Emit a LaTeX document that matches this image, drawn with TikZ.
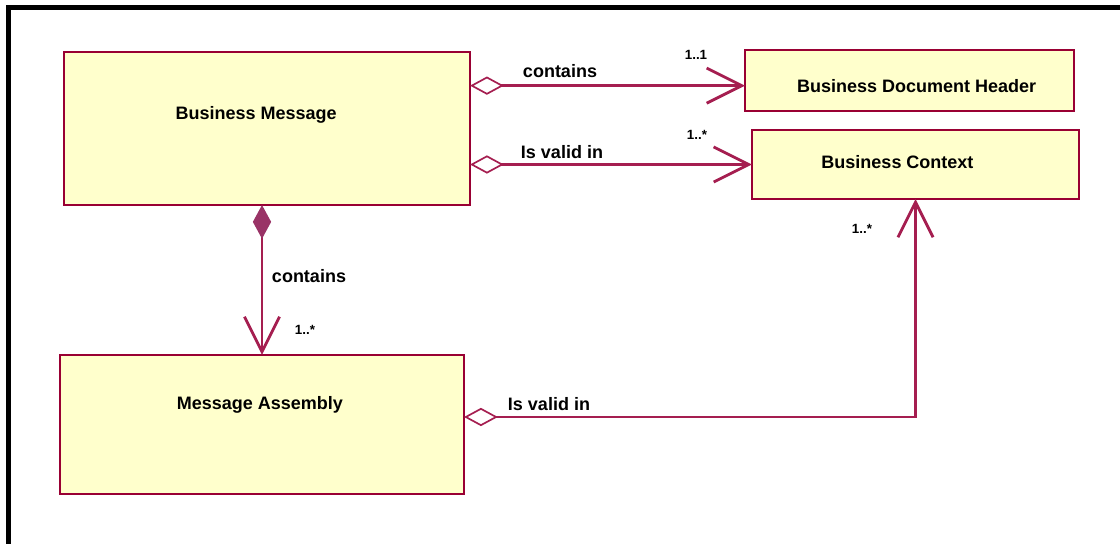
\documentclass[tikz,border=0pt]{standalone}
\usepackage{fontspec}
\setmainfont{Liberation Sans}
\usetikzlibrary{arrows.meta,calc,positioning}
\definecolor{umlred}{RGB}{153,0,51}
\definecolor{umlline}{RGB}{165,30,80}
\definecolor{umlfill}{RGB}{255,255,204}
\definecolor{umlcomp}{RGB}{153,51,102}

\begin{document}
\begin{tikzpicture}[x=0.025cm, y=-0.025cm,
    cls/.style={draw=umlred, fill=umlfill, line width=1pt, rectangle, outer sep=0pt},
    clsname/.style={font=\fontsize{12.8}{14}\selectfont\bfseries, inner sep=0pt},
    lbl/.style={font=\fontsize{12.8}{14}\selectfont\bfseries, inner sep=0pt},
    mult/.style={font=\fontsize{9.5}{10}\selectfont\bfseries, inner sep=0pt},
    link/.style={draw=umlline, line width=1.7pt},
    agg/.style={link, {Diamond[open, length=24pt, width=13pt, line width=1.2pt]}-{Straight Barb[length=25pt, width=25pt, line width=2pt]}},
    comp/.style={link, {Diamond[length=24pt, width=13pt, fill=umlcomp, color=umlcomp]}-{Straight Barb[length=25pt, width=25pt, line width=2pt]}}
]
    \useasboundingbox (0,0) rectangle (1120,544);
    % frame
    \draw[line width=3.2pt] (8.5,544) -- (8.5,7.5) -- (1120,7.5);

    % classes
    \node [cls, minimum width=10.15cm, minimum height=3.825cm,
           label={[clsname, xshift=-0.27cm, yshift=0.34cm]center:Business Message}] (msg) at (267,128.5) {};
    \node [cls, minimum width=8.225cm, minimum height=1.525cm,
           label={[clsname, xshift=0.18cm, yshift=-0.14cm]center:Business Document Header}] (hdr) at (909.5,80.5) {};
    \node [cls, minimum width=8.175cm, minimum height=1.725cm,
           label={[clsname, xshift=-0.45cm, yshift=0.06cm]center:Business Context}] (ctx) at (915.5,164.5) {};
    \node [cls, minimum width=10.1cm, minimum height=3.475cm,
           label={[clsname, xshift=-0.05cm, yshift=0.49cm]center:Message Assembly}] (asm) at (262,424.5) {};

    % associations
    \draw[agg] ($(msg.north east)!0.22!(msg.south east)$) coordinate (c1) -- (c1 -| hdr.west);
    \draw[agg] (msg.east |- ctx.west) -- (ctx.west);
    \draw[comp] (msg.south -| asm.north) -- (asm.north);
    \draw[agg] ($(asm.north east)!0.446!(asm.south east)$) coordinate (c2) -| (ctx.south);

    % labels
    \node [lbl] (l1) at (560,71) {contains};
    \node [mult] (m1) at (696,55) {1..1};
    \node [lbl] (l2) at (562,152) {Is valid in};
    \node [mult] (m2) at (697,135) {1..*};
    \node [lbl] (l3) at (309,276) {contains};
    \node [mult] (m3) at (305,330) {1..*};
    \node [lbl] (l4) at (549,404) {Is valid in};
    \node [mult] (m4) at (862,229) {1..*};
\end{tikzpicture}
\end{document}
